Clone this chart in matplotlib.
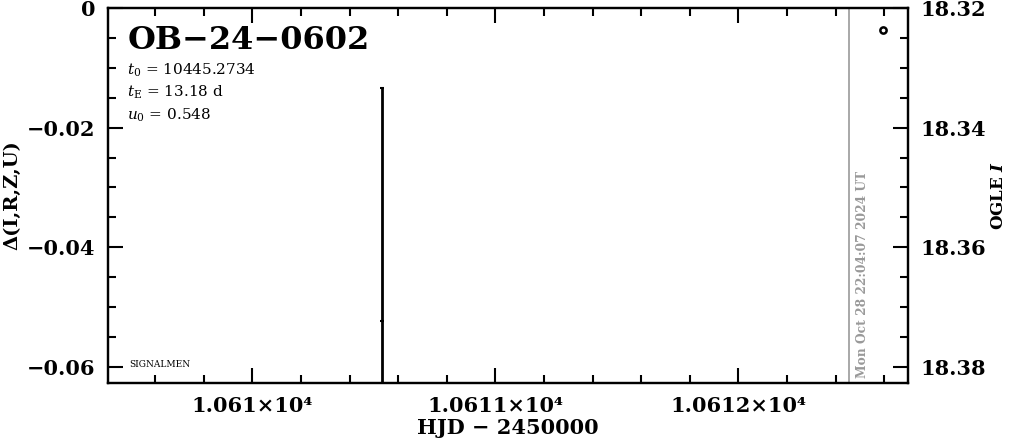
import matplotlib
matplotlib.use("Agg")
import matplotlib.pyplot as plt
from matplotlib.ticker import MultipleLocator, FuncFormatter

# ---- data ----
event_name = "OB−24−0602"
t0_text = "10445.2734"
tE_text = "13.18 d"
u0_text = "0.548"
survey_label = "SIGNALMEN"
now_label = "Mon Oct 28 22:04:07 2024 UT"

delta_hjd = [10610.532]
delta_mag = [-0.0524]
delta_err = [0.039]

ogle_hjd = [10612.597]
ogle_mag = [18.3237]

now_hjd = 10612.454

xlim = (10609.406, 10612.698)
ylim_left = (-0.0627, 0.0)
ylim_right = (18.3827, 18.32)

plt.rcParams['font.family'] = ['DejaVu Serif']
plt.rcParams['mathtext.fontset'] = 'dejavuserif'

fig = plt.figure(figsize=(10.11, 4.41), dpi=100)
ax = fig.add_axes([108/1011, 1-383/441, 800/1011, 375/441])
ax2 = ax.twinx()

ax.set_xlim(*xlim)
ax.set_ylim(*ylim_left)
ax2.set_ylim(*ylim_right)

ax.errorbar(delta_hjd, delta_mag, yerr=delta_err, fmt='_', color='black',
            ms=3, mew=1.5, elinewidth=2, capsize=1.5, capthick=1.5)
ax2.plot(ogle_hjd, ogle_mag, 'o', ms=4.5, mfc='white', mec='black', mew=1.8)

ax.axvline(now_hjd, color='#999999', lw=1.2)
ax.text(now_hjd + 0.03, -0.0618, now_label, rotation=90, color='#999999',
        fontsize=8.8, fontweight='bold', ha='left', va='bottom')

ax.xaxis.set_major_locator(MultipleLocator(1))
ax.xaxis.set_minor_locator(MultipleLocator(0.2))
ax.yaxis.set_major_locator(MultipleLocator(0.02))
ax.yaxis.set_minor_locator(MultipleLocator(0.005))
ax2.yaxis.set_major_locator(MultipleLocator(0.02))
ax2.yaxis.set_minor_locator(MultipleLocator(0.005))

def xfmt(v, pos):
    s = "%g" % (v / 1e4)
    return s + "×10⁴"
ax.xaxis.set_major_formatter(FuncFormatter(xfmt))
ax.yaxis.set_major_formatter(FuncFormatter(lambda v, p: "0" if abs(v) < 1e-9 else ("%.2f" % v).replace("-", "−")))
ax2.yaxis.set_major_formatter(FuncFormatter(lambda v, p: "%.2f" % v))

for a in (ax, ax2):
    for s in a.spines.values():
        s.set_linewidth(1.6)
ax.tick_params(which='both', direction='in', top=True, right=False, width=1.5,
               labelsize=15, pad=9)
ax.tick_params(which='major', length=11)
ax.tick_params(which='minor', length=5.5)
ax2.tick_params(which='both', direction='in', width=1.5, labelsize=15, pad=9)
ax2.tick_params(which='major', length=11)
ax2.tick_params(which='minor', length=5.5)
for lab in ax.get_xticklabels() + ax.get_yticklabels() + ax2.get_yticklabels():
    lab.set_fontweight('bold')

ax.set_xlabel("HJD − 2450000", fontsize=15, fontweight='bold', labelpad=2)
ax.set_ylabel("Δ(I,R,Z,U)", fontsize=14, fontweight='bold', labelpad=4)
ax2.set_ylabel("OGLE $\\mathbfit{I}$", fontsize=12, fontweight='bold', labelpad=3)

ax.text(0.024, 0.955, event_name, transform=ax.transAxes, fontsize=23,
        fontweight='bold', ha='left', va='top')
ax.text(0.024, 0.835, "$t_0$ = " + t0_text, transform=ax.transAxes, fontsize=11, va='center')
ax.text(0.024, 0.775, "$t_\\mathrm{E}$ = " + tE_text, transform=ax.transAxes, fontsize=11, va='center')
ax.text(0.024, 0.715, "$u_0$ = " + u0_text, transform=ax.transAxes, fontsize=11, va='center')
ax.text(0.026, 0.05, survey_label, transform=ax.transAxes, fontsize=6.5, va='center')

fig.savefig("out.png", dpi=100)
